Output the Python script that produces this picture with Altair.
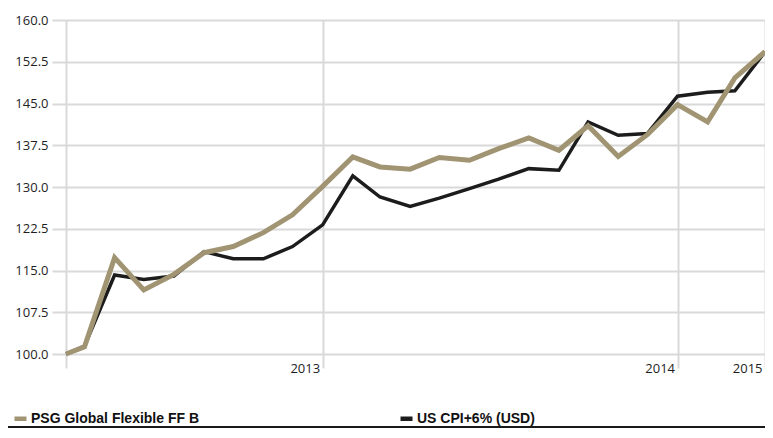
import altair as alt
import pandas as pd

dates = ["2012-04-11", "2012-04-30", "2012-05-31", "2012-06-30", "2012-07-31",
         "2012-08-31", "2012-09-30", "2012-10-31", "2012-11-30", "2012-12-31",
         "2013-01-31", "2013-02-28", "2013-03-31", "2013-04-30", "2013-05-31",
         "2013-06-30", "2013-07-31", "2013-08-31", "2013-09-30", "2013-10-31",
         "2013-11-30", "2013-12-31", "2014-01-31", "2014-02-28", "2014-03-31"]

psg = [100.0, 101.3, 117.3, 111.5, 114.3, 118.2, 119.3, 121.8, 125.0, 130.1,
       135.4, 133.6, 133.2, 135.3, 134.8, 136.9, 138.8, 136.6, 141.0, 135.5,
       139.4, 144.8, 141.7, 149.6, 154.3]

cpi = [100.0, 101.4, 114.2, 113.4, 114.0, 118.4, 117.1, 117.1, 119.3, 123.2,
       132.0, 128.2, 126.5, 128.0, 129.7, 131.4, 133.3, 133.0, 141.7, 139.3,
       139.6, 146.3, 147.0, 147.3, 154.3]

series_names = ["PSG Global Flexible FF B", "US CPI+6% (USD)"]
series_colors = ["#a09472", "#1c1c1c"]
series_widths = [5, 3.5]

y_ticks = [100.0, 107.5, 115.0, 122.5, 130.0, 137.5, 145.0, 152.5, 160.0]
x_tick_dates = ["2012-04-11", "2012-12-31", "2013-12-31", "2014-03-31"]
x_tick_labels = ["", "2013", "2014", "2015"]

rows = []
for d, a, b in zip(dates, psg, cpi):
    rows.append({"date": d, "series": series_names[0], "value": a})
    rows.append({"date": d, "series": series_names[1], "value": b})
df = pd.DataFrame(rows)


def dt(s):
    y, m, d = (int(p) for p in s.split("-"))
    return alt.DateTime(year=y, month=m, date=d, utc=True)


label_expr = "''"
for d, lab in zip(reversed(x_tick_dates), reversed(x_tick_labels)):
    label_expr = f"utcFormat(datum.value, '%Y-%m-%d') == '{d}' ? '{lab}' : ({label_expr})"

GRID = "#d9d9d9"
TICK_FONT = "Open Sans"

x_enc = alt.X(
    "date:T",
    scale=alt.Scale(type="utc", domain=[dt(dates[0]), dt(dates[-1])]),
    axis=alt.Axis(
        values=[dt(d) for d in x_tick_dates], labelExpr=label_expr, title=None,
        grid=True, gridColor=GRID, gridWidth=2, domain=False,
        ticks=True, tickColor=GRID, tickWidth=2, tickSize=14,
        labelAlign="right", labelBaseline="top", labelOffset=-3, labelPadding=-6,
        labelFlush=False, labelOverlap=False,
        labelFont=TICK_FONT, labelFontSize=13, labelColor="#1e1e1e",
    ),
)
y_enc = alt.Y(
    "value:Q",
    scale=alt.Scale(domain=[100, 160], nice=False, zero=False),
    axis=alt.Axis(
        values=y_ticks, format=".1f", title=None, domain=False,
        grid=True, gridColor=GRID, gridWidth=2,
        ticks=True, tickColor=GRID, tickWidth=2, tickSize=14, labelPadding=4,
        labelFont=TICK_FONT, labelFontSize=13, labelColor="#1e1e1e",
    ),
)
color_enc = alt.Color(
    "series:N",
    scale=alt.Scale(domain=series_names, range=series_colors),
    legend=alt.Legend(
        orient="none", legendX=-54, legendY=390, direction="horizontal", title=None,
        symbolType="M-1,0H1", symbolSize=144, symbolStrokeWidth=4.5,
        labelFont="Liberation Sans Narrow, Liberation Sans, sans-serif",
        labelFontSize=14, labelFontWeight="bold", labelColor="#111111",
        labelOffset=2, labelLimit=400, columnPadding=191,
    ),
)

base = alt.Chart(df).encode(x=x_enc, y=y_enc, color=color_enc)

cpi_layer = base.transform_filter(alt.datum.series == series_names[1]).mark_line(
    strokeWidth=series_widths[1])
psg_layer = base.transform_filter(alt.datum.series == series_names[0]).mark_line(
    strokeWidth=series_widths[0])

border = alt.Chart(pd.DataFrame({"k": [0]})).mark_rule(
    color="#1a1a1a", strokeWidth=2).encode(
    x=alt.value(-70), x2=alt.value(720), y=alt.value(407))

chart = alt.layer(cpi_layer, psg_layer, border).properties(
    width=699, height=334,
    padding={"left": 58, "top": 12, "right": 0, "bottom": 75},
    autosize="none",
).configure_view(stroke=None)

chart.save("out.html", embed_options={"renderer": "svg", "actions": False})
